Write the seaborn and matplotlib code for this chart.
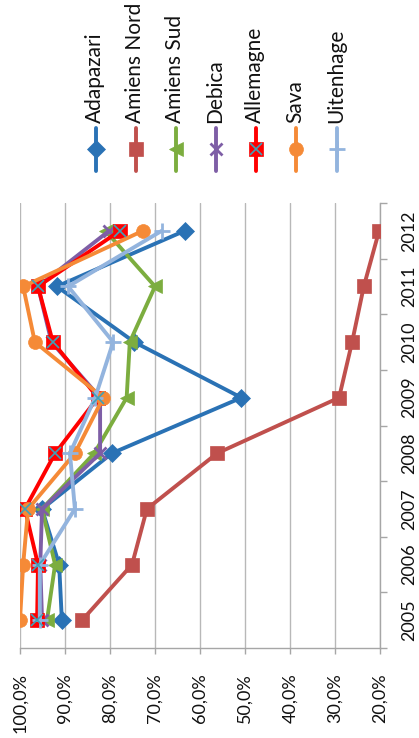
import matplotlib
matplotlib.use("Agg")
import matplotlib.pyplot as plt
from matplotlib.lines import Line2D
from matplotlib.ticker import FixedLocator, FuncFormatter
import seaborn as sns
import pandas as pd

# Yearly rates per plant (percent)
years = [2005, 2006, 2007, 2008, 2009, 2010, 2011, 2012]
adapazari = [90.7, 91.3, 95.1, 79.6, 50.8, 74.6, 91.8, 63.4]
amiens_nord = [86.2, 75.1, 71.8, 56.2, 29.1, 26.2, 23.6, 20.2]
amiens_sud = [94.0, 92.2, 95.1, 83.5, 76.3, 75.6, 70.0, 81.0]
debica = [95.1, 95.5, 95.1, 82.2, 82.2, 93.0, 96.0, 80.2]
allemagne = [96.2, 96.0, 98.9, 92.2, 82.7, 92.7, 96.0, 77.8]
sava = [100.0, 99.3, 98.2, 87.8, 81.5, 96.7, 99.3, 72.7]
uitenhage = [95.6, 95.6, 87.8, 88.9, 83.3, 79.3, 89.3, 68.5]

series_names = ["Adapazari", "Amiens Nord", "Amiens Sud", "Debica",
                "Allemagne", "Sava", "Uitenhage"]
series_values = [adapazari, amiens_nord, amiens_sud, debica,
                 allemagne, sava, uitenhage]
value_ticks = [100, 90, 80, 70, 60, 50, 40, 30, 20]

colors = ["#2a72b5", "#c0504d", "#7cad3f", "#7e5ea6",
          "#ff0000", "#f58a37", "#93b4de"]
markers = ["D", "s", "<", "x", "s", "o", "+"]
msizes = [9, 10, 10, 9, 10, 10, 12]
LW = 2.8

W, H = 419, 738
sns.set_theme(style="white")
plt.rcParams["font.family"] = ["Lato", "DejaVu Sans"]
fig = plt.figure(figsize=(W / 100, H / 100), dpi=100)

# plot area in pixel coordinates (left, top, right, bottom)
L, T, R, B = 20, 203, 380, 648
ax = fig.add_axes([L / W, 1 - B / H, (R - L) / W, (B - T) / H])

df = pd.DataFrame({"year": years})
for name, vals, c, m, ms in zip(series_names, series_values, colors, markers, msizes):
    df[name] = vals
    sns.lineplot(data=df, x=name, y="year", orient="y", color=c, lw=LW,
                 marker=m, markersize=ms, markeredgecolor=c,
                 markeredgewidth=2 if m in ("x", "+") else 0.5,
                 ax=ax, legend=False, zorder=3)
    if name == "Allemagne":
        ax.plot(vals, years, ls="none", marker="x", ms=8, mew=1.2,
                color="#3fa0b8", zorder=3.1)

ax.set_xlim(100, 20)
ax.set_ylim(2004.5, 2012.5)
ax.set_xlabel("")
ax.set_ylabel("")

# value axis (bottom)
ax.xaxis.set_major_locator(FixedLocator(value_ticks))
ax.xaxis.set_major_formatter(FuncFormatter(lambda v, p: f"{v:.1f}%".replace(".", ",")))
ax.grid(axis="x", color="#b8b8b8", lw=1)
ax.grid(axis="y", visible=False)
ax.tick_params(axis="x", bottom=True, length=4, width=1, color="#a6a6a6",
               labelrotation=90, labelsize=13, pad=14, labelcolor="#111111")

# category axis (right)
ax.yaxis.tick_right()
ax.set_yticks(years)
ax.set_yticklabels([str(y) for y in years])
ax.set_yticks([y + 0.5 for y in [2004] + years], minor=True)
ax.tick_params(axis="y", which="major", right=False, length=0,
               labelrotation=90, labelsize=13, pad=15, labelcolor="#111111")
ax.tick_params(axis="y", which="minor", right=True, length=5, width=1,
               color="#a6a6a6")
for lab in ax.get_yticklabels():
    lab.set_va("center")

for s in ["top", "left"]:
    ax.spines[s].set_visible(False)
for s in ["bottom", "right"]:
    ax.spines[s].set_color("#a6a6a6")
    ax.spines[s].set_linewidth(1)

# legend drawn in pixel coordinates above the plot
lg = fig.add_axes([0, 0, 1, 1], facecolor="none")
lg.set_xlim(0, W)
lg.set_ylim(H, 0)
lg.axis("off")
leg_x = [96, 136, 176, 216, 256, 296, 337]
for x, name, c, m, ms in zip(leg_x, series_names, colors, markers, msizes):
    lg.add_line(Line2D([x, x], [128, 171], color=c, lw=LW))
    lg.add_line(Line2D([x], [149], marker=m, ms=ms, color=c, markeredgecolor=c,
                       markeredgewidth=2 if m in ("x", "+") else 0.5))
    if name == "Allemagne":
        lg.add_line(Line2D([x], [149], marker="x", ms=8, mew=1.2, color="#3fa0b8"))
    lg.text(x - 1, 123, name, rotation=90, ha="center", va="bottom",
            fontsize=15, color="#111111")

fig.savefig("out.png", dpi=100)
